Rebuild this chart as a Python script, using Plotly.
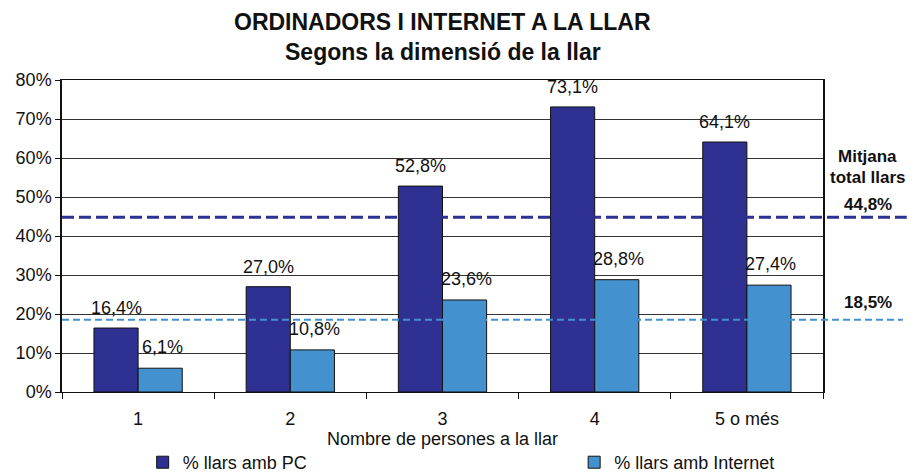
import plotly.graph_objects as go

categories = ["1", "2", "3", "4", "5 o més"]
pc_values = [16.4, 27.0, 52.8, 73.1, 64.1]
internet_values = [6.1, 10.8, 23.6, 28.8, 27.4]
pc_mean = 44.8
internet_mean = 18.5
series_names = ["% llars amb PC", "% llars amb Internet"]
title_lines = ["ORDINADORS I INTERNET A LA LLAR", "Segons la dimensió de la llar"]

DARK = "#2E3192"
LIGHT = "#4391CF"
FONT = "Liberation Sans, Arial, sans-serif"

def fmt(v):
    return f"{v:.1f}".replace(".", ",") + "%"

fig = go.Figure()
fig.add_trace(go.Bar(x=categories, y=pc_values, name=series_names[0], legend="legend",
                     marker=dict(color=DARK, line=dict(color="#111", width=1))))
fig.add_trace(go.Bar(x=categories, y=internet_values, name=series_names[1], legend="legend2",
                     marker=dict(color=LIGHT, line=dict(color="#111", width=1))))

annotations = []
for i, v in enumerate(pc_values):
    annotations.append(dict(x=i, y=v, xref="x", yref="y", text=fmt(v), showarrow=False,
                            xshift=-22, yshift=8, yanchor="bottom",
                            font=dict(size=18, color="#111", family=FONT)))
for i, v in enumerate(internet_values):
    annotations.append(dict(x=i, y=v, xref="x", yref="y", text=fmt(v), showarrow=False,
                            xshift=24, yshift=9, yanchor="bottom",
                            font=dict(size=18, color="#111", family=FONT)))

RX = 1.059
annotations += [
    dict(x=0.5, y=1.186, xref="paper", yref="paper", text="<b>" + title_lines[0] + "</b>",
         showarrow=False, xanchor="center", yanchor="middle",
         font=dict(size=23, color="#111", family=FONT)),
    dict(x=0.5, y=1.0897, xref="paper", yref="paper", text="<b>" + title_lines[1] + "</b>",
         showarrow=False, xanchor="center", yanchor="middle",
         font=dict(size=23, color="#111", family=FONT)),
    dict(x=RX, y=60.5, xref="paper", yref="y", text="<b>Mitjana</b>",
         showarrow=False, xanchor="center", yanchor="middle",
         font=dict(size=17, color="#111", family=FONT)),
    dict(x=RX, y=55.1, xref="paper", yref="y", text="<b>total llars</b>",
         showarrow=False, xanchor="center", yanchor="middle",
         font=dict(size=17, color="#111", family=FONT)),
    dict(x=RX, y=pc_mean, xref="paper", yref="y", text="<b>" + fmt(pc_mean) + "</b>",
         showarrow=False, xanchor="center", yanchor="bottom", yshift=1,
         font=dict(size=17, color="#111", family=FONT)),
    dict(x=RX, y=internet_mean, xref="paper", yref="y",
         text="<b>" + fmt(internet_mean) + "</b>",
         showarrow=False, xanchor="center", yanchor="bottom", yshift=6,
         font=dict(size=17, color="#111", family=FONT)),
]

shapes = [
    dict(type="line", xref="paper", yref="y", x0=0, x1=1.11, y0=pc_mean, y1=pc_mean,
         line=dict(color=DARK, width=3, dash="12px,5px")),
    dict(type="line", xref="paper", yref="y", x0=0, x1=1.105, y0=internet_mean, y1=internet_mean,
         line=dict(color=LIGHT, width=2, dash="7px,4px")),
]

legend_common = dict(orientation="h", xanchor="left", y=-0.226, yanchor="middle",
                     font=dict(size=18, family=FONT), itemwidth=30,
                     bgcolor="rgba(0,0,0,0)")

fig.update_layout(
    width=914, height=474,
    margin=dict(l=62, r=91, t=80, b=82, autoexpand=False),
    paper_bgcolor="white", plot_bgcolor="white",
    font=dict(family=FONT, size=18, color="#111"),
    barmode="group", bargap=0.42, bargroupgap=0,
    showlegend=True,
    legend=dict(x=0.106, **legend_common),
    legend2=dict(x=0.673, **legend_common),
    annotations=annotations,
    shapes=shapes,
)
fig.update_xaxes(type="category", tickson="boundaries", ticks="outside", ticklen=6,
                 tickcolor="#111", showline=True, linecolor="#111", linewidth=1,
                 mirror=True, showgrid=False, ticklabelstandoff=10,
                 title=dict(text="Nombre de persones a la llar", standoff=0,
                            font=dict(size=18)),
                 tickfont=dict(size=18))
fig.update_yaxes(range=[0, 80], dtick=10, ticksuffix="%", ticks="outside", ticklen=5,
                 tickcolor="#111", showline=True, linecolor="#111", linewidth=1.5,
                 mirror=True, showgrid=True, gridcolor="#333", gridwidth=1,
                 zeroline=False, tickfont=dict(size=18))

fig.write_html("out.html", config={"displayModeBar": False},
               post_script="document.body.style.margin='0';document.body.style.overflow='hidden';")
